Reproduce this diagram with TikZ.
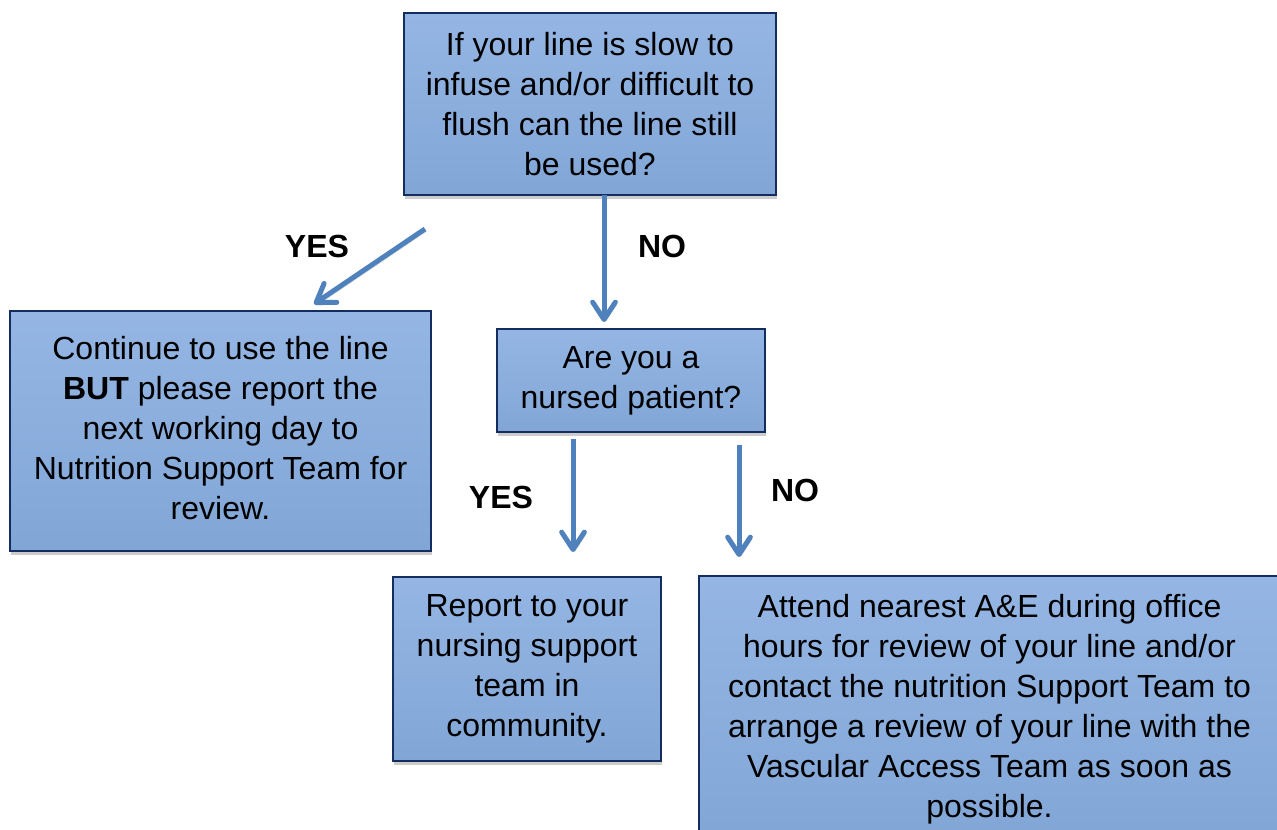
\documentclass[tikz,border=0pt]{standalone}
\usepackage{fontspec}
\setmainfont{Liberation Sans}
\usetikzlibrary{arrows.meta,shadows}
\definecolor{boxtop}{RGB}{149,182,228}
\definecolor{boxbot}{RGB}{129,166,214}
\definecolor{boxedge}{RGB}{20,45,95}
\definecolor{arrowblue}{RGB}{79,129,189}

\begin{document}
\begin{tikzpicture}[x=0.75pt,y=-0.75pt,
  flowbox/.style={draw=boxedge, line width=1.7pt, top color=boxtop, bottom color=boxbot,
    align=center, inner sep=0pt, font=\fontsize{24}{30}\selectfont,
    drop shadow={shadow xshift=0.8pt, shadow yshift=-3pt, fill=black!20, opacity=1}},
  flowarrow/.style={draw=arrowblue, line width=3.75pt, line cap=butt,
    -{Straight Barb[length=13pt,width=17pt,line join=round,line cap=round]},
    preaction={draw=black!14, transform canvas={shift={(1.2pt,-1.8pt)}}}},
  choice/.style={font=\bfseries\fontsize{24}{30}\selectfont, inner sep=0pt}]

\useasboundingbox (0,0) rectangle (1277,830);
\clip (0,0) rectangle (1277,830);

% boxes
\node[flowbox, minimum width=279pt, minimum height=136.5pt] (q1) at (590,104)
  {If your line is slow to\\infuse and/or difficult to\\flush can the line still\\be used?};
\node[flowbox, minimum width=315.75pt, minimum height=180pt] (cont) at (220.5,431)
  {Continue to use the line\\\textbf{BUT} please report the\\next working day to\\Nutrition Support Team for\\review.\rule[-4.5pt]{0pt}{0pt}};
\node[flowbox, minimum width=201pt, minimum height=77.25pt] (q2) at (631,380.5)
  {Are you a\\nursed patient?};
\node[flowbox, minimum width=201pt, minimum height=138pt] (nurse) at (527,669)
  {Report to your\\nursing support\\team in\\community.};
\node[flowbox, minimum width=435.75pt, minimum height=199.5pt] (attend) at (989.5,709)
  {Attend nearest A\&E during office\\hours for review of your line and/or\\contact the nutrition Support Team to\\arrange a review of your line with the\\Vascular Access Team as soon as\\possible.};

% connector end points
\coordinate (y1s) at (425,229);
\coordinate (y1e) at (314,304);
\coordinate (n1s) at (604,195);
\coordinate (n1e) at (604,322);
\coordinate (y2s) at (573,439);
\coordinate (y2e) at (573,552);
\coordinate (n2s) at (739,445);
\coordinate (n2e) at (739,557);

\draw[flowarrow] (y1s) -- (y1e);
\draw[flowarrow] (n1s) -- (n1e);
\draw[flowarrow] (y2s) -- (y2e);
\draw[flowarrow] (n2s) -- (n2e);

% answers
\node[choice] (yes1) at (317,246) {YES};
\node[choice] (no1) at (662,246.5) {NO};
\node[choice] (yes2) at (501,497) {YES};
\node[choice] (no2) at (795,490) {NO};
\end{tikzpicture}
\end{document}
